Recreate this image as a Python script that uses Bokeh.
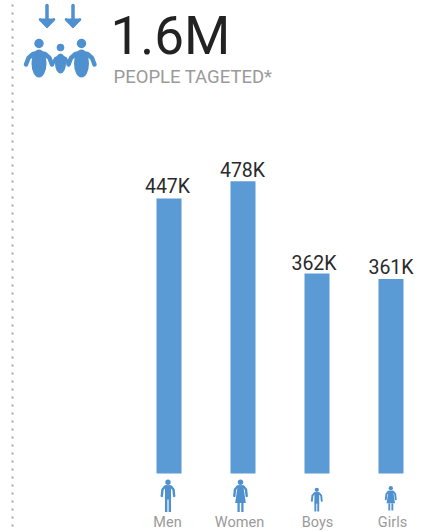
from bokeh.plotting import figure
from bokeh.models import Range1d
from bokeh.core.properties import value
from bokeh.embed import file_html
from bokeh.resources import INLINE

categories = ["Men", "Women", "Boys", "Girls"]
# bar lengths, in thousands
bar_values = [447, 475, 325, 316]
value_labels = ["447K", "478K", "362K", "361K"]
headline = "1.6M"
subtitle = "PEOPLE TAGETED*"

BAR = "#5b9bd5"
ICON = "#4f90cf"
GREY = "#9a9a9a"
FONT = value("Roboto")

W, H = 426, 532
BASE = 473.0
K = 275 / 447
DX = 74.0
X0 = 168.5
DESC = 0.23  # share of the font size below the baseline

p = figure(width=W, height=H, output_backend="svg", toolbar_location=None,
           x_range=Range1d(-X0 / DX, (W - X0) / DX),
           y_range=Range1d((BASE - H) / K, BASE / K),
           min_border=0, min_border_left=0, min_border_right=0,
           min_border_top=0, min_border_bottom=0, outline_line_color=None)
p.axis.visible = False
p.grid.visible = False
p.xaxis.visible = False
p.yaxis.visible = False
p.extra_x_ranges = {"px": Range1d(0, W)}
p.extra_y_ranges = {"px": Range1d(H, 0)}
px = dict(x_range_name="px", y_range_name="px")

idx = list(range(len(categories)))
value_dx = [-1.5, -0.5, -3.0, 0.0]
value_dy = [-5, -4, -3, -5]
label_dx = [-1.5, -3.5, 0.5, 1.5]
p.vbar(x=idx, bottom=0, top=bar_values, width=25 / DX, fill_color=BAR, line_color=None)
p.text(x=idx, y=bar_values, text=value_labels, text_align="center", text_baseline="bottom",
       x_offset=value_dx, y_offset=[d + 19.5 * DESC for d in value_dy],
       text_font=FONT, text_font_size="19.5px", text_color="#2a2a2a")
p.text(x=idx, y=[527.5 + 14.5 * DESC] * 4, text=categories, text_align="center", text_baseline="bottom",
       x_offset=label_dx, text_font=FONT, text_font_size="14.5px", text_color=GREY, y_range_name="px")

p.text(x=[110], y=[54 + 53 * DESC], text=[headline], text_font=FONT, text_font_size="53px",
       text_baseline="bottom", text_color="#222222", **px)
p.text(x=[113], y=[83 + 18.5 * DESC], text=[subtitle], text_font=FONT, text_font_size="18.5px",
       text_baseline="bottom", text_color=GREY, **px)

# dotted rule
p.line([12, 12], [4, H], line_color="#a8a8a8", line_width=2, line_dash="2 6", **px)


def limb(xs, ys, w):
    p.line(xs, ys, line_color=ICON, line_width=w, line_cap="round", line_join="round", **px)


def head(x, y, r):
    p.circle(x=[x], y=[y], radius=r, fill_color=ICON, line_color=None, **px)


# arrows
for ax in (46.5, 72.5):
    limb([ax, ax], [5, 25], 3.5)
    p.patch([ax - 8, ax + 8, ax], [18, 18, 28], fill_color=ICON, line_color=None, **px)
    limb([ax - 7, ax, ax + 7], [19, 26, 19], 2.5)

# family
for cx in (38.5, 81):
    head(cx, 43, 4.7)
    p.ellipse(x=[cx], y=[63], width=15, height=28, fill_color=ICON, line_color=None, **px)
    limb([cx - 13, cx - 10.5, cx - 6, cx, cx + 6, cx + 10.5, cx + 13],
         [64, 57.5, 53.5, 52.5, 53.5, 57.5, 64], 4.5)
head(60, 47, 3.8)
p.ellipse(x=[60], y=[63], width=11, height=20, fill_color=ICON, line_color=None, **px)
limb([52, 55, 60, 65, 68], [64, 58, 56, 58, 64], 3.2)


def person(cx, top, feet, s, dress):
    head(cx, top, 2.7 * s)
    sh = top + 4.3 * s
    limb([cx - 6.2 * s, cx - 5.5 * s, cx - 3 * s, cx + 3 * s, cx + 5.5 * s, cx + 6.2 * s],
         [sh + 9.5 * s, sh + 3 * s, sh, sh, sh + 3 * s, sh + 9.5 * s], 2.4 * s)
    if dress:
        hem = feet - 9 * s
        p.patch([cx - 2.8 * s, cx + 2.8 * s, cx + 5.3 * s, cx - 5.3 * s],
                [sh - 1, sh - 1, hem, hem], fill_color=ICON, line_color=None, **px)
        for d in (-1.9, 1.9):
            p.line([cx + d * s] * 2, [hem, feet], line_color=ICON, line_width=2.3 * s, **px)
    else:
        p.patch([cx - 3 * s, cx + 3 * s, cx + 3 * s, cx - 3 * s],
                [sh - 1, sh - 1, sh + 13 * s, sh + 13 * s], fill_color=ICON, line_color=None, **px)
        for d in (-1.8, 1.8):
            p.line([cx + d * s] * 2, [sh + 12 * s, feet], line_color=ICON, line_width=2.4 * s, **px)


person(167.5, 481.7, 511.5, 1.0, False)
person(240, 481.7, 511.5, 1.0, True)
person(316.3, 489.3, 511, 0.8, False)
person(390.3, 487.7, 510, 0.8, True)

open("out.html", "w").write(file_html(p, INLINE))
